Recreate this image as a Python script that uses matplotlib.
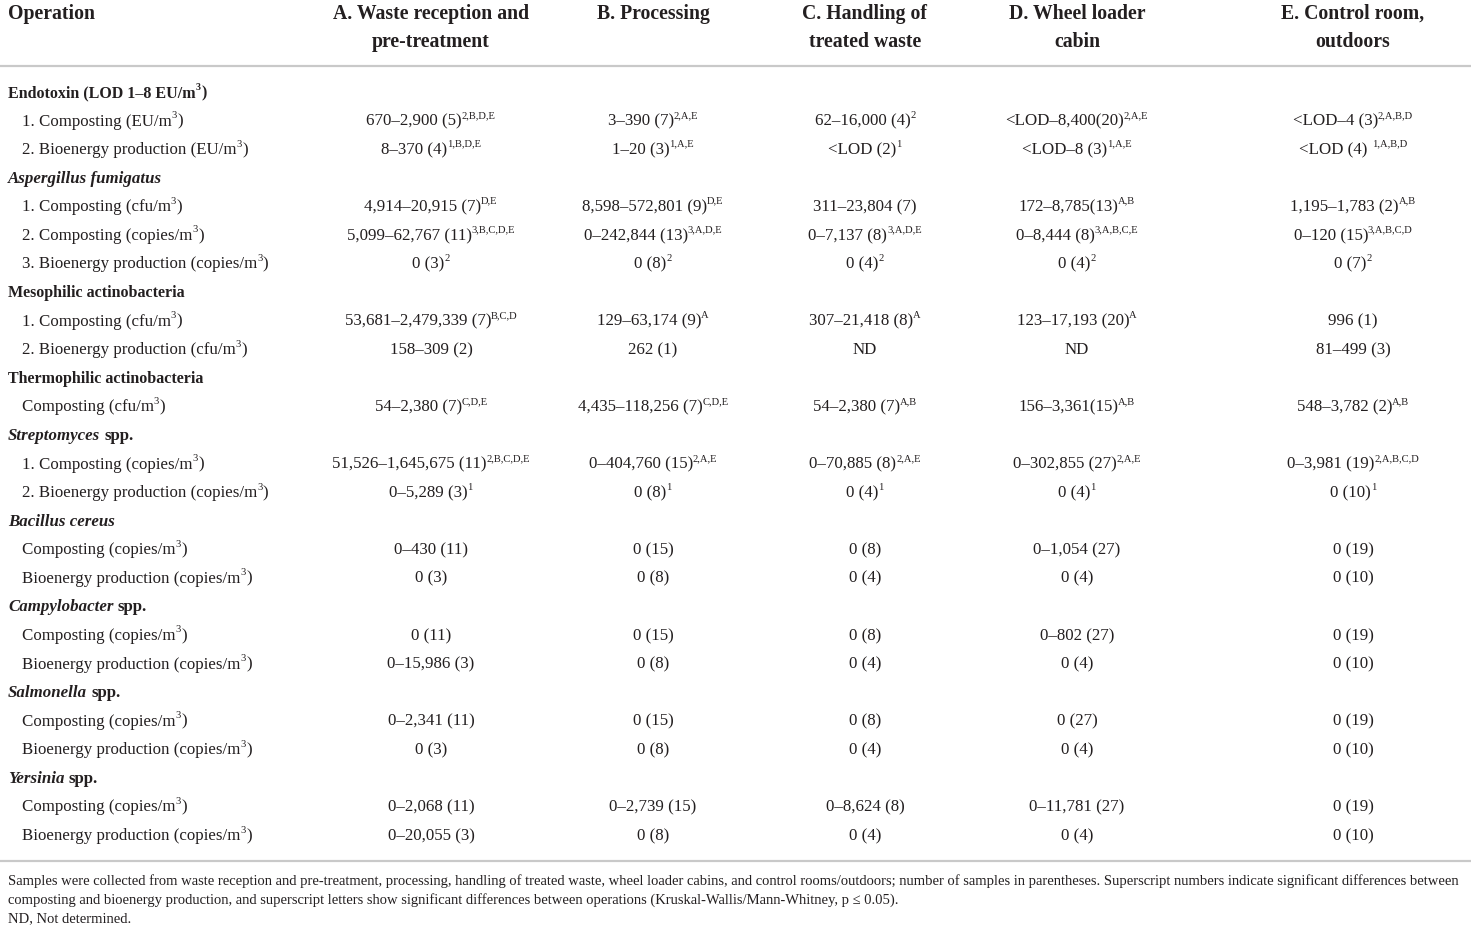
import matplotlib
matplotlib.use("Agg")
from matplotlib import pyplot as plt

plt.rcParams['font.family'] = ['Liberation Serif', 'DejaVu Serif']

col_headers = [
    ["A. Waste reception and", "pre-treatment"],
    ["B. Processing"],
    ["C. Handling of", "treated waste"],
    ["D. Wheel loader", "cabin"],
    ["E. Control room,", "outdoors"],
]

# group title: (italic part, plain part)
groups = [
    ("", "Endotoxin (LOD 1–8 EU/m^3"),
    ("Aspergillus fumigatus", ""),
    ("", "Mesophilic actinobacteria"),
    ("", "Thermophilic actinobacteria"),
    ("Streptomyces", "spp."),
    ("Bacillus cereus", ""),
    ("Campylobacter", "spp."),
    ("Salmonella", "spp."),
    ("Yersinia", "spp."),
]

row_labels = [
    ["1. Composting (EU/m^3", "2. Bioenergy production (EU/m^3"],
    ["1. Composting (cfu/m^3", "2. Composting (copies/m^3", "3. Bioenergy production (copies/m^3"],
    ["1. Composting (cfu/m^3", "2. Bioenergy production (cfu/m^3"],
    ["Composting (cfu/m^3"],
    ["1. Composting (copies/m^3", "2. Bioenergy production (copies/m^3"],
    ["Composting (copies/m^3", "Bioenergy production (copies/m^3"],
    ["Composting (copies/m^3", "Bioenergy production (copies/m^3"],
    ["Composting (copies/m^3", "Bioenergy production (copies/m^3"],
    ["Composting (copies/m^3", "Bioenergy production (copies/m^3"],
]

endotoxin = [
    ["670–2,900 (5)^2,B,D,E", "3–390 (7)^2,A,E", "62–16,000 (4)^2", "<LOD–8,400(20)^2,A,E", "<LOD–4 (3)^2,A,B,D"],
    ["8–370 (4)^1,B,D,E", "1–20 (3)^1,A,E", "<LOD (2)^1", "<LOD–8 (3)^1,A,E", "<LOD (4) ^1,A,B,D"],
]
aspergillus = [
    ["4,914–20,915 (7)^D,E", "8,598–572,801 (9)^D,E", "311–23,804 (7)", "172–8,785(13)^A,B", "1,195–1,783 (2)^A,B"],
    ["5,099–62,767 (11)^3,B,C,D,E", "0–242,844 (13)^3,A,D,E", "0–7,137 (8)^3,A,D,E", "0–8,444 (8)^3,A,B,C,E", "0–120 (15)^3,A,B,C,D"],
    ["0 (3)^2", "0 (8)^2", "0 (4)^2", "0 (4)^2", "0 (7)^2"],
]
mesophilic = [
    ["53,681–2,479,339 (7)^B,C,D", "129–63,174 (9)^A", "307–21,418 (8)^A", "123–17,193 (20)^A", "996 (1)"],
    ["158–309 (2)", "262 (1)", "ND", "ND", "81–499 (3)"],
]
thermophilic = [
    ["54–2,380 (7)^C,D,E", "4,435–118,256 (7)^C,D,E", "54–2,380 (7)^A,B", "156–3,361(15)^A,B", "548–3,782 (2)^A,B"],
]
streptomyces = [
    ["51,526–1,645,675 (11)^2,B,C,D,E", "0–404,760 (15)^2,A,E", "0–70,885 (8)^2,A,E", "0–302,855 (27)^2,A,E", "0–3,981 (19)^2,A,B,C,D"],
    ["0–5,289 (3)^1", "0 (8)^1", "0 (4)^1", "0 (4)^1", "0 (10)^1"],
]
bacillus = [
    ["0–430 (11)", "0 (15)", "0 (8)", "0–1,054 (27)", "0 (19)"],
    ["0 (3)", "0 (8)", "0 (4)", "0 (4)", "0 (10)"],
]
campylobacter = [
    ["0 (11)", "0 (15)", "0 (8)", "0–802 (27)", "0 (19)"],
    ["0–15,986 (3)", "0 (8)", "0 (4)", "0 (4)", "0 (10)"],
]
salmonella = [
    ["0–2,341 (11)", "0 (15)", "0 (8)", "0 (27)", "0 (19)"],
    ["0 (3)", "0 (8)", "0 (4)", "0 (4)", "0 (10)"],
]
yersinia = [
    ["0–2,068 (11)", "0–2,739 (15)", "0–8,624 (8)", "0–11,781 (27)", "0 (19)"],
    ["0–20,055 (3)", "0 (8)", "0 (4)", "0 (4)", "0 (10)"],
]
values = [endotoxin, aspergillus, mesophilic, thermophilic, streptomyces,
          bacillus, campylobacter, salmonella, yersinia]

footnote = [
    "Samples were collected from waste reception and pre-treatment, processing, handling of treated waste, wheel loader cabins, "
    "and control rooms/outdoors; number of samples in parentheses. Superscript numbers indicate significant differences between",
    "composting and bioenergy production, and superscript letters show significant differences between operations "
    "(Kruskal-Wallis/Mann-Whitney, p ≤ 0.05).",
    "ND, Not determined.",
]

W, H = 1471, 928
INK = '#231f20'
RULE = '#c9c9c9'
BODY = 12.2
GROUP = 11.5
GROUP_IT = 12.2
HEAD = 14.2
NOTE = 10.55
col_x = [431, 653, 865, 1077, 1353]

fig = plt.figure(figsize=(W / 100, H / 100), dpi=100)
ax = fig.add_axes([0, 0, 1, 1])
ax.set_xlim(0, W)
ax.set_ylim(H, 0)
ax.axis('off')
renderer = fig.canvas.get_renderer()


def width(t):
    return t.get_window_extent(renderer).width


def put(x, y, s, size, ha='left', weight='normal', style='normal'):
    """text with an optional superscript after '^'; a ')' closes units"""
    main, _, sup = s.partition('^')
    tail = ''
    if main.endswith('m') and sup == '3':
        tail = ')'
    t1 = ax.text(0, y, main.rstrip(), size=size, va='baseline', color=INK,
                 weight=weight, style=style)
    parts = [t1]
    gap = [0]
    if sup:
        t2 = ax.text(0, y - size * 0.62, sup, size=size * 0.62, va='baseline',
                     color=INK, weight=weight)
        parts.append(t2)
        gap.append(size * 0.35 if main.endswith(' ') else -0.3)
    if tail:
        t3 = ax.text(0, y, tail, size=size, va='baseline', color=INK,
                     weight=weight)
        parts.append(t3)
        gap.append(0.8)
    ws = [width(p) for p in parts]
    total = sum(ws) + sum(gap)
    x0 = x - total / 2 if ha == 'center' else x
    for p, w, g in zip(parts, ws, gap):
        x0 += g
        p.set_x(x0)
        x0 += w
    return x0


# header
ax.text(8, 19, "Operation", size=HEAD, weight='bold', va='baseline', color=INK)
for cx, lines in zip(col_x, col_headers):
    for k, line in enumerate(lines):
        ax.text(cx, 19 + 28 * k, line, size=HEAD, weight='bold',
                ha='center', va='baseline', color=INK)

ax.axhline(67, color=RULE, lw=1.6)

step = 28.58
i = 0
for (ital, plain), labels, rows in zip(groups, row_labels, values):
    y = 97 + i * step
    x = 8
    if ital:
        t = ax.text(x, y, ital, size=GROUP_IT, weight='bold', style='italic',
                    va='baseline', color=INK)
        x += width(t) + (GROUP_IT * 0.35 if plain else 0)
    if plain:
        put(x, y, plain, GROUP_IT if ital else GROUP, weight='bold')
    i += 1
    for label, row in zip(labels, rows):
        y = 97 + i * step
        put(22, y, label, BODY)
        for cx, cell in zip(col_x, row):
            put(cx, y, cell, BODY, ha='center')
        i += 1

ax.axhline(862, color=RULE, lw=1.6)

for k, line in enumerate(footnote):
    ax.text(8, 885 + 18.5 * k, line, size=NOTE, va='baseline', color=INK)

fig.savefig("out.png", dpi=100)
